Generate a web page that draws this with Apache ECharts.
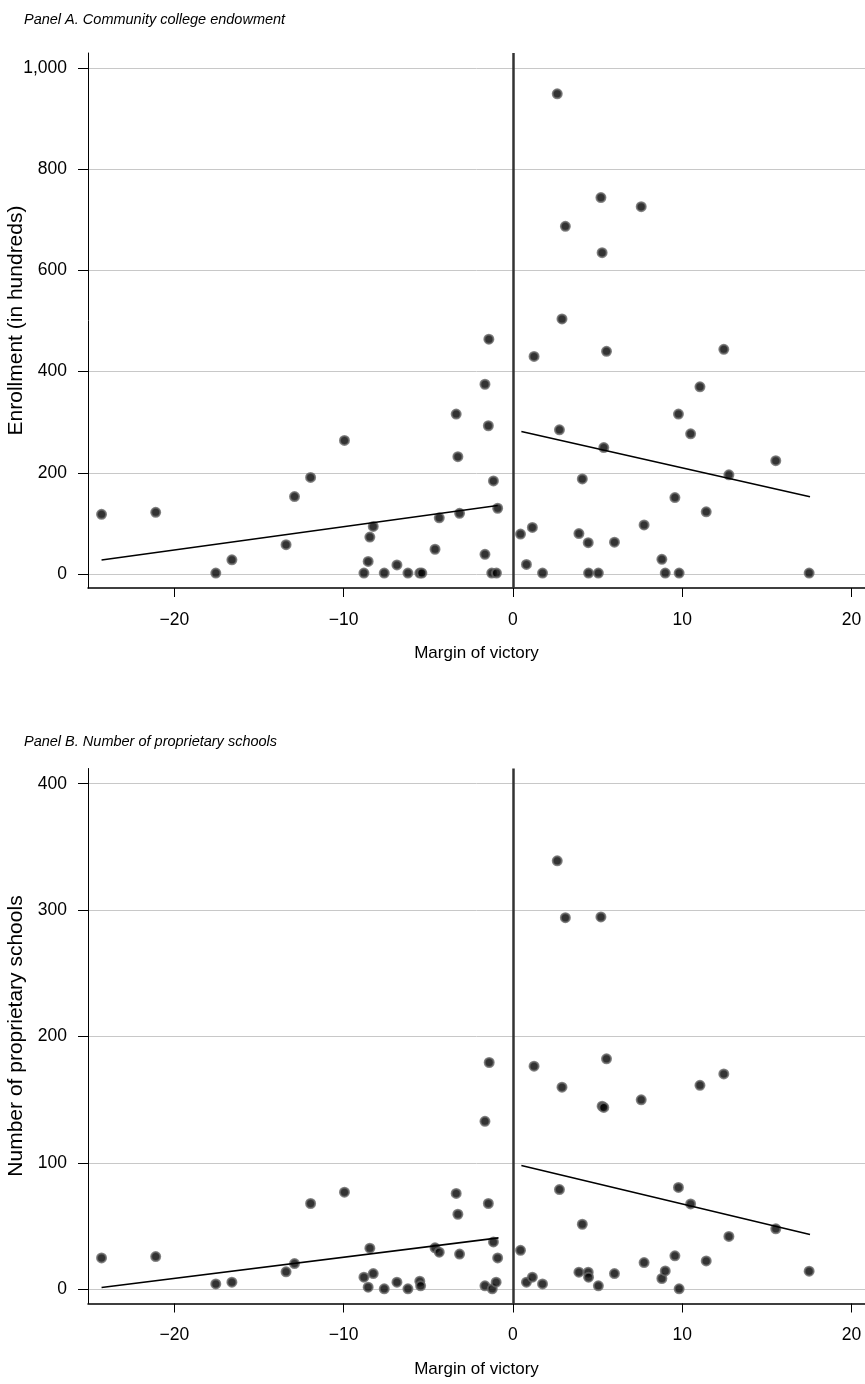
<!DOCTYPE html>
<html><head><meta charset="utf-8">
<script src="https://cdn.jsdelivr.net/npm/echarts@6/dist/echarts.min.js"></script>
<style>html,body{margin:0;padding:0;background:#fff}#c{width:865px;height:1384px}</style>
</head><body><div id="c"></div><script>
// ---- Data ----
const xTicks = [-20, -10, 0, 10, 20];
const yTicksA = [0, 200, 400, 600, 800, 1000];
const yTicksB = [0, 100, 200, 300, 400];

// Panel A: enrollment (in hundreds)
const panelALeft = [[-24.3,118],[-21.1,122],[-17.55,2],[-16.6,28],[-13.4,58],[-12.9,153],[-11.95,191],[-9.95,264],[-8.8,2],[-8.55,25],[-8.45,73],[-8.25,94],[-7.6,2],[-6.85,18],[-6.2,2],[-5.5,2],[-5.38,2],[-4.6,49],[-4.35,111],[-3.35,316],[-3.25,232],[-3.15,120],[-1.65,375],[-1.65,39],[-1.45,293],[-1.42,464],[-1.25,2],[-1.15,184],[-0.97,2],[-0.9,130]];
const panelARight = [[0.45,79],[0.8,19],[1.15,92],[1.25,430],[1.75,2],[2.62,949],[2.75,285],[2.9,504],[3.1,687],[3.9,80],[4.1,188],[4.45,62],[4.47,2],[5.05,2],[5.2,744],[5.27,635],[5.37,250],[5.53,440],[6.0,63],[7.58,726],[7.75,97],[8.8,29],[9.0,2],[9.57,151],[9.78,316],[9.82,2],[10.5,277],[11.05,370],[11.42,123],[12.46,444],[12.76,196],[15.53,224],[17.5,2]];
const fitALeft = [[-24.3,27.6],[-0.9,135.5]];
const fitARight = [[0.5,281.7],[17.55,152.7]];

// Panel B: number of proprietary schools
const panelBLeft = [[-24.3,25],[-21.1,26],[-17.55,4.4],[-16.6,5.8],[-13.4,14],[-12.9,20.5],[-11.95,68],[-9.95,77],[-8.8,9.7],[-8.55,1.8],[-8.45,32.7],[-8.25,12.6],[-7.6,0.5],[-6.85,5.8],[-6.2,0.5],[-5.5,6.6],[-5.45,2.9],[-4.6,33],[-4.35,29.5],[-3.35,76],[-3.25,59.5],[-3.15,28],[-1.65,133],[-1.65,2.9],[-1.45,68],[-1.4,179.5],[-1.22,0.5],[-1.15,37.6],[-0.99,5.8],[-0.9,25]];
const panelBRight = [[0.45,31],[0.8,5.8],[1.15,9.7],[1.25,176.6],[1.75,4.4],[2.62,339],[2.75,79],[2.9,160],[3.1,294],[3.9,13.7],[4.1,51.6],[4.45,13.7],[4.47,9.7],[5.05,2.9],[5.2,294.6],[5.27,145],[5.37,144],[5.53,182.4],[6.0,12.6],[7.58,150],[7.75,21.3],[8.8,8.7],[9.0,14.7],[9.57,26.6],[9.78,80.7],[9.82,0.5],[10.5,67.7],[11.05,161.5],[11.42,22.6],[12.46,170.5],[12.76,42],[15.53,48],[17.5,14.5]];
const fitBLeft = [[-24.3,1.6],[-0.85,40.8]];
const fitBRight = [[0.5,98],[17.55,43.5]];

// ---- Chart ----
const FONT = "'Liberation Sans', Arial, Helvetica, sans-serif";
const chart = echarts.init(document.getElementById('c'), null, {renderer:'canvas'});

function fmtNum(v){
  let s = Math.abs(v).toLocaleString('en-US');
  return (v < 0 ? '\u2212' : '') + s;
}

function mkX(gi){
  return {
    type:'value', gridIndex:gi, min:-25.1, max:20.8,
    name:'Margin of victory', nameLocation:'middle', nameGap:57, nameMoveOverlap:false,
    nameTextStyle:{fontFamily:FONT, fontSize:17, color:'#000'},
    axisLine:{onZero:false, lineStyle:{color:'#000', width:1.5}},
    axisTick:{customValues:xTicks, length:9, lineStyle:{color:'#000', width:1}},
    axisLabel:{customValues:xTicks, margin:23, formatter:fmtNum, fontFamily:FONT, fontSize:17.5, color:'#000'},
    splitLine:{show:false}
  };
}
function mkY(gi, min, max, ticks, name){
  return {
    type:'value', gridIndex:gi, min:min, max:max,
    name:name, nameLocation:'middle', nameGap:61, nameRotate:90, nameMoveOverlap:false,
    nameTextStyle:{fontFamily:FONT, fontSize:21, color:'#000'},
    axisLine:{onZero:false, lineStyle:{color:'#000', width:1}},
    axisTick:{customValues:ticks, length:10, lineStyle:{color:'#000', width:1}},
    axisLabel:{customValues:ticks, margin:21, formatter:fmtNum, fontFamily:FONT, fontSize:17.5, color:'#000'},
    splitLine:{show:true, lineStyle:{color:'#c8c8c8', width:1}}
  };
}

const dotStyle = {color:'#000', borderColor:'#666', borderWidth:2};
function scatter(gi, data){
  return {type:'scatter', xAxisIndex:gi, yAxisIndex:gi, data:data, symbol:'circle', symbolSize:9, itemStyle:dotStyle, z:3};
}
function fit(gi, data){
  return {type:'line', xAxisIndex:gi, yAxisIndex:gi, data:data, symbol:'none', lineStyle:{color:'#000', width:1.6}, z:4};
}
function zeroLine(gi){
  return {type:'scatter', xAxisIndex:gi, yAxisIndex:gi, data:[], z:2,
    markLine:{silent:true, symbol:'none', label:{show:false}, animation:false,
      lineStyle:{color:'#333', width:2.5, type:'solid'}, data:[{xAxis:0}]}};
}

const titleStyle = {fontFamily:FONT, fontSize:14.5, fontStyle:'italic', fontWeight:'normal', color:'#000'};
chart.setOption({
  animation:false,
  backgroundColor:'#fff',
  title:[
    {text:'Panel A. Community college endowment', left:24, top:12, padding:0, textStyle:titleStyle},
    {text:'Panel B. Number of proprietary schools', left:24, top:734, padding:0, textStyle:titleStyle}
  ],
  grid:[
    {left:88, top:53, width:777, height:535, outerBoundsMode:'none'},
    {left:88, top:768.5, width:777, height:535, outerBoundsMode:'none'}
  ],
  xAxis:[mkX(0), mkX(1)],
  yAxis:[
    mkY(0, -27.6, 1029.6, yTicksA, 'Enrollment (in hundreds)'),
    mkY(1, -11.07, 412, yTicksB, 'Number of proprietary schools')
  ],
  series:[
    zeroLine(0),
    scatter(0, panelALeft), scatter(0, panelARight),
    fit(0, fitALeft), fit(0, fitARight),
    zeroLine(1),
    scatter(1, panelBLeft), scatter(1, panelBRight),
    fit(1, fitBLeft), fit(1, fitBRight)
  ]
});
</script></body></html>
